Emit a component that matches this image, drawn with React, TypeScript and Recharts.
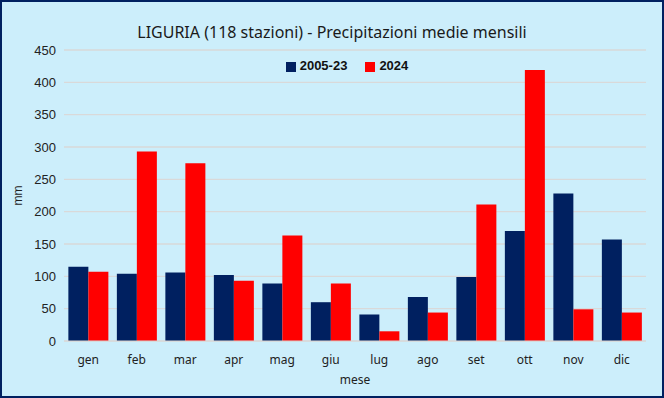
import { BarChart, Bar, XAxis, YAxis, CartesianGrid, Legend } from "recharts";

const months = ["gen", "feb", "mar", "apr", "mag", "giu", "lug", "ago", "set", "ott", "nov", "dic"];
const media2005_23 = [115, 104, 106, 102, 89, 60, 41, 68, 99, 170, 228, 157];
const anno2024 = [107, 293, 275, 93, 163, 89, 15, 44, 211, 419, 49, 44];
const yTicks = [0, 50, 100, 150, 200, 250, 300, 350, 400, 450];

const data = months.map((m, i) => ({ mese: m, "2005-23": media2005_23[i], "2024": anno2024[i] }));

export default function App() {
  return (
    <div style={{ position: "absolute", left: 0, top: 0, width: 664, height: 398, background: "#CCEEFB" }}>
      <div
        style={{
          position: "absolute",
          top: 21,
          left: 0,
          width: 664,
          textAlign: "center",
          fontFamily: "Noto Sans, sans-serif",
          fontSize: 16,
          color: "#1a1a1a",
        }}
      >
        LIGURIA (118 stazioni) - Precipitazioni medie mensili
      </div>
      <BarChart
        width={664}
        height={398}
        data={data}
        margin={{ top: 35, right: 18, bottom: 10, left: 8 }}
        barCategoryGap="9%"
        barGap={0}
      >
        <CartesianGrid vertical={false} stroke="#D9D9D9" strokeWidth={1.3} />
        <XAxis
          dataKey="mese"
          axisLine={{ stroke: "#D9D9D9" }}
          tickLine={false}
          height={47}
          tick={{ fontFamily: "Noto Sans, sans-serif", fontSize: 12, fill: "#222" }}
          tickMargin={8}
          label={{ value: "mese", position: "insideBottom", offset: 4, style: { fontFamily: "Noto Sans, sans-serif", fontSize: 12, fill: "#222" } }}
        />
        <YAxis
          domain={[0, 450]}
          ticks={yTicks}
          width={56}
          axisLine={false}
          tickLine={false}
          tick={{ fontFamily: "Liberation Sans, Arial, sans-serif", fontSize: 13, fill: "#222" }}
          tickMargin={2}
          label={{ value: "mm", angle: -90, position: "insideLeft", offset: 10, style: { fontFamily: "Liberation Sans, sans-serif", fontSize: 12, fill: "#222", textAnchor: "middle" } }}
        />
        <Legend
          verticalAlign="top"
          align="center"
          iconType="square"
          iconSize={10}
          wrapperStyle={{ top: 58, left: 24, width: 664, fontFamily: "Liberation Sans Narrow, Liberation Sans, sans-serif", fontSize: 13, fontWeight: "bold" }}
          formatter={(v: string) => <span style={{ color: "#111", marginRight: 8 }}>{v}</span>}
        />
        <Bar dataKey="2005-23" fill="#002060" isAnimationActive={false} />
        <Bar dataKey="2024" fill="#FF0000" isAnimationActive={false} />
      </BarChart>
      <div
        style={{
          position: "absolute",
          left: 0,
          top: 0,
          width: 664,
          height: 398,
          boxSizing: "border-box",
          border: "2px solid #002060",
          pointerEvents: "none",
        }}
      />
    </div>
  );
}
